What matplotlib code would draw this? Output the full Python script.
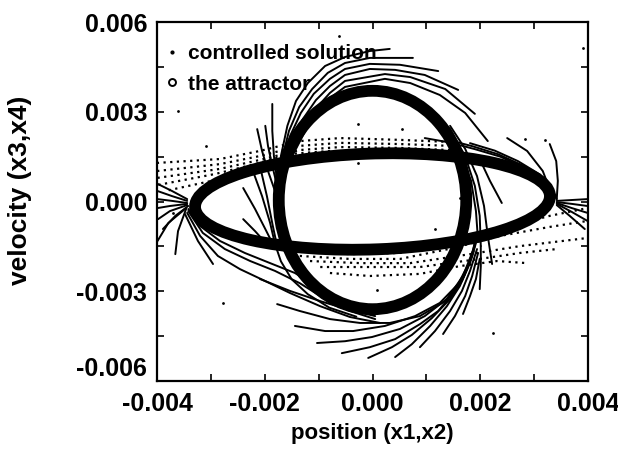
import numpy as np
import matplotlib
matplotlib.use("Agg")
import matplotlib.pyplot as plt
from matplotlib.patches import Ellipse
from matplotlib.lines import Line2D

plt.rcParams['font.family'] = ['Liberation Sans', 'DejaVu Sans']
plt.rcParams['font.weight'] = 'bold'

SCALE = 1e-3  # all values below are in units of 1e-3

# ---- axes ----
x_ticks = [-0.004, -0.002, 0.000, 0.002, 0.004]
y_ticks = [-0.006, -0.003, 0.000, 0.003, 0.006]
x_label = "position (x1,x2)"
y_label = "velocity (x3,x4)"
legend_labels = ["controlled solution", "the attractor"]

# ---- the attractor: two closed orbits (center x, center y, semi-x, semi-y, tilt deg) ----
attractor_h = (0.00, 0.00, 3.30, 1.60, 4.0)
attractor_v = (0.00, 0.05, 1.74, 3.65, 0.0)

# ---- controlled solutions (x, y pairs, units 1e-3) ----
traj_top = [
    ([0.32, -0.05, -0.51, -0.88, -1.20, -1.42, -1.58, -1.70, -1.74],
     [5.10, 5.03, 4.83, 4.53, 3.96, 3.36, 2.53, 1.52, 0.69]),
    ([0.75, -0.05, -0.51, -0.83, -1.12, -1.36, -1.55, -1.68, -1.74],
     [4.80, 4.80, 4.63, 4.30, 3.76, 3.16, 2.36, 1.42, 0.69]),
    ([1.22, 0.51, -0.05, -0.51, -0.79, -1.09, -1.33, -1.53, -1.66, -1.72],
     [4.36, 4.57, 4.60, 4.43, 4.10, 3.60, 2.96, 2.19, 1.35, 0.69]),
    ([1.59, 0.97, 0.42, -0.05, -0.51, -0.79, -1.05, -1.29, -1.51, -1.64, -1.72],
     [3.73, 4.23, 4.40, 4.43, 4.23, 3.86, 3.39, 2.76, 2.02, 1.29, 0.69]),
    ([1.90, 1.35, 0.70, 0.23, -0.51, -0.79, -1.01, -1.25, -1.47, -1.64, -1.72],
     [2.93, 3.76, 4.16, 4.26, 4.03, 3.63, 3.19, 2.59, 1.86, 1.19, 0.69]),
    ([2.14, 1.72, 1.25, 0.70, 0.23, -0.51, -0.79, -1.01, -1.23, -1.44, -1.62, -1.70],
     [2.02, 2.96, 3.56, 3.96, 4.10, 3.83, 3.46, 3.03, 2.42, 1.69, 1.09, 0.69]),
]
traj_left_inner = [
    ([-1.86, -1.86, -1.83, -1.77], [3.26, 2.36, 1.52, 0.69]),
    ([-2.14, -2.05, -1.94, -1.81], [2.42, 1.69, 1.02, 0.35]),
    ([-1.99, -1.94, -1.86, -1.77], [2.53, 1.86, 1.19, 0.52]),
    ([-2.40, -2.18, -1.99, -1.85], [0.45, -0.25, -0.92, -1.42]),
    ([-2.40, -2.18, -1.98], [-0.59, -0.99, -1.39]),
    ([-2.22, -2.05, -1.90, -1.81], [1.02, 0.18, -0.72, -1.42]),
    ([-2.09, -1.96, -1.85, -1.77], [1.19, 0.18, -0.82, -1.49]),
    ([-1.81, -1.70, -1.50, -1.20, -0.80, -0.30], [-1.42, -2.00, -2.60, -3.10, -3.55, -3.85]),
]
traj_left_edge = [
    ([-3.99, -3.72, -3.44], [0.59, 0.35, 0.08]),
    ([-3.99, -3.72, -3.44], [0.35, 0.18, 0.02]),
    ([-3.99, -3.72, -3.44], [0.08, 0.02, -0.05]),
    ([-3.99, -3.76, -3.44], [-0.22, -0.15, -0.08]),
    ([-3.98, -3.76, -3.44], [-0.59, -0.32, -0.12]),
    ([-3.89, -3.66, -3.42], [-0.92, -0.48, -0.15]),
    ([-3.66, -3.61, -3.46], [-1.76, -0.99, -0.25]),
    ([-3.99, -3.79, -3.46], [-1.32, -0.72, -0.22]),
]
traj_bottom_left = [
    ([-3.42, -3.20, -2.83, -2.37, -1.90, -1.44, -0.97, -0.51, -0.01],
     [-0.25, -0.82, -1.32, -1.72, -2.06, -2.39, -2.93, -3.39, -3.73]),
    ([-3.42, -3.15, -2.74, -2.27, -1.81, -1.35, -0.88, -0.42, 0.05],
     [-0.32, -1.05, -1.59, -1.99, -2.32, -2.73, -3.26, -3.66, -3.93]),
    ([-3.44, -3.20, -2.87, -2.46, -1.99, -1.53, -0.97, -0.42, 0.14],
     [-0.38, -1.15, -1.82, -2.26, -2.66, -3.06, -3.50, -3.86, -4.06]),
    ([-3.48, -3.24, -2.96], [-0.42, -1.32, -2.09]),
    ([-2.09, -1.53, -0.97, -0.42, 0.05], [-2.59, -2.99, -3.33, -3.63, -3.83]),
]
traj_bottom = [
    ([-1.77, -1.35, -0.79, -0.23, 0.32, 0.88, 1.35, 1.66, 1.85, 1.92],
     [-3.43, -3.66, -3.93, -4.06, -4.06, -3.83, -3.33, -2.66, -1.82, -1.15]),
    ([-1.44, -0.88, -0.36, 0.23, 0.79, 1.25, 1.59, 1.81, 1.92],
     [-4.16, -4.33, -4.33, -4.16, -3.83, -3.39, -2.76, -1.99, -1.25]),
    ([-1.03, -0.51, -0.01, 0.51, 0.97, 1.38, 1.68, 1.86],
     [-4.73, -4.67, -4.53, -4.26, -3.83, -3.26, -2.49, -1.66]),
    ([-0.57, -0.05, 0.42, 0.88, 1.22, 1.53, 1.75, 1.90],
     [-5.07, -4.87, -4.60, -4.10, -3.66, -2.99, -2.26, -1.49]),
    ([-0.08, 0.36, 0.73, 1.10, 1.44, 1.70, 1.88],
     [-5.23, -4.87, -4.46, -3.90, -3.26, -2.49, -1.66]),
    ([0.42, 0.73, 1.07, 1.38, 1.62, 1.81, 1.92],
     [-5.20, -4.77, -4.16, -3.50, -2.83, -2.06, -1.39]),
    ([0.88, 1.16, 1.44, 1.66, 1.81, 1.94], [-4.87, -4.33, -3.66, -2.99, -2.32, -1.59]),
    ([1.31, 1.53, 1.72, 1.85, 1.96], [-4.43, -3.83, -3.16, -2.49, -1.72]),
    ([1.68, 1.81, 1.92, 1.99], [-3.76, -3.16, -2.59, -1.92]),
    ([1.99, 2.01, 2.01], [-2.93, -2.16, -1.49]),
]
traj_right_up = [
    ([2.01, 1.99, 1.90, 1.72, 1.44, 1.07, 0.60, 0.14],
     [-1.49, -0.48, 0.52, 1.52, 2.42, 3.09, 3.60, 3.83]),
    ([1.96, 1.92, 1.83, 1.64, 1.36, 0.99, 0.51],
     [-1.32, -0.32, 0.69, 1.62, 2.46, 3.13, 3.60]),
    ([2.22, 2.14, 2.07, 1.94, 1.72, 1.44], [-2.09, -1.15, -0.15, 0.85, 1.76, 2.53]),
]
traj_right_edge = [
    ([3.99, 3.70, 3.42], [0.08, 0.05, 0.02]),
    ([3.99, 3.70, 3.42], [-0.15, -0.08, -0.02]),
    ([3.99, 3.70, 3.42], [-0.38, -0.22, -0.05]),
    ([3.99, 3.70, 3.42], [-0.65, -0.35, -0.08]),
    ([3.94, 3.66, 3.42], [-0.92, -0.48, -0.12]),
    ([3.29, 3.41, 3.44, 3.42], [1.92, 1.35, 0.69, 0.08]),
    ([2.50, 2.87, 3.16, 3.32], [2.12, 1.69, 1.02, 0.28]),
    ([1.99, 2.18, 2.40], [1.42, 0.69, -0.05]),
]
traj_top_right = [
    ([3.42, 3.20, 2.83, 2.37, 1.90, 1.44, 0.97], [0.08, 0.69, 1.12, 1.50, 1.75, 1.97, 2.12]),
    ([3.41, 3.16, 2.77, 2.33, 1.85, 1.40], [0.15, 0.80, 1.22, 1.58, 1.85, 2.06]),
    ([3.39, 3.11, 2.70, 2.27, 1.81], [0.22, 0.90, 1.35, 1.70, 1.95]),
]
# sparse (dotted) solutions
dotted_upper = [
    ([1.44, 0.51, -0.60, -1.35, -2.09, -2.83, -3.99], [1.99, 2.06, 2.12, 2.02, 1.69, 1.42, 1.29]),
    ([1.44, 0.51, -0.60, -1.35, -2.09, -2.83, -3.99], [1.86, 1.92, 1.96, 1.86, 1.52, 1.25, 1.02]),
    ([1.44, 0.51, -0.60, -1.35, -2.09, -2.83, -3.99], [1.72, 1.79, 1.82, 1.72, 1.39, 1.09, 0.79]),
    ([1.07, 0.14, -0.79, -1.53, -2.18, -2.92, -3.99], [1.62, 1.66, 1.69, 1.59, 1.25, 0.92, 0.55]),
    ([-1.35, -2.09, -2.83, -3.85], [1.52, 1.12, 0.75, 0.35]),
]
dotted_lower = [
    ([-1.35, -0.42, 0.51, 1.44, 2.37, 3.29, 3.99], [-1.66, -1.76, -1.72, -1.32, -0.92, -0.48, -0.22]),
    ([-1.35, -0.42, 0.51, 1.49, 2.37, 3.29, 3.99], [-1.82, -1.92, -1.92, -1.56, -1.15, -0.85, -0.65]),
    ([-1.16, -0.23, 0.70, 1.81, 2.74, 3.99], [-1.99, -2.06, -2.06, -1.76, -1.49, -1.22]),
    ([-0.97, -0.05, 0.88, 1.99, 2.74, 3.42], [-2.19, -2.19, -2.19, -1.92, -1.72, -1.59]),
    ([-0.79, -0.05, 0.88, 1.62, 2.31, 2.87], [-2.39, -2.49, -2.42, -2.16, -1.99, -2.06]),
]
stray_x = [-3.61, -0.62, -2.77, 1.16, 0.08, 2.24, 3.91, 2.83, 3.20, 0.55, -0.27, -0.27, 1.62, -3.09, -3.70]
stray_y = [3.03, 5.54, -3.39, -0.92, -2.96, -4.40, 5.13, 2.09, 2.06, 2.42, 2.59, 1.29, 0.12, 1.86, -0.38]

# ---- figure ----
fig = plt.figure(figsize=(6.18, 4.49), dpi=100)
ax = fig.add_axes([157 / 618, 68 / 449, 431 / 618, 359 / 449])

for (cx, cy, sx, sy, ang) in (attractor_h, attractor_v):
    ax.add_patch(Ellipse((cx * SCALE, cy * SCALE), 2 * sx * SCALE, 2 * sy * SCALE,
                         angle=ang, fill=False, edgecolor='black', lw=8.5, zorder=2))

solid_groups = [traj_top, traj_left_inner, traj_left_edge, traj_bottom_left,
                traj_bottom, traj_right_up, traj_right_edge, traj_top_right]
for grp in solid_groups:
    for xs, ys in grp:
        ax.plot(np.array(xs) * SCALE, np.array(ys) * SCALE, color='black',
                lw=1.4, solid_capstyle='round', solid_joinstyle='round', zorder=3)
for grp in (dotted_upper, dotted_lower):
    for xs, ys in grp:
        ax.plot(np.array(xs) * SCALE, np.array(ys) * SCALE, color='black',
                lw=1.6, ls=(0, (1, 2.0)), zorder=3)
ax.scatter(np.array(stray_x) * SCALE, np.array(stray_y) * SCALE, s=4, color='black',
           zorder=3, linewidths=0)

ax.set_xlim(-0.004, 0.004)
ax.set_ylim(-0.006, 0.006)
ax.set_xticks(x_ticks)
ax.set_yticks(y_ticks)
ax.set_xticklabels([f"{v:.3f}" for v in x_ticks])
ax.set_yticklabels([f"{v:.3f}" for v in y_ticks])
ax.set_xticks(np.arange(-0.003, 0.0031, 0.002), minor=True)
ax.set_yticks(np.arange(-0.0045, 0.0046, 0.003), minor=True)
ax.tick_params(which='both', direction='in', top=True, right=True, width=1.2,
               labelsize=18, colors='black', length=5)
ax.tick_params(axis='x', pad=8)
ax.tick_params(axis='y', pad=7)
for s in ax.spines.values():
    s.set_linewidth(1.6)
# bottom y label sits just above the axis corner, as in the original
ax.get_yticklabels()[0].set_verticalalignment('bottom')

ax.set_xlabel(x_label, fontsize=16, fontweight='bold', labelpad=5)
ax.set_ylabel(y_label, fontsize=19, fontweight='bold')
ax.yaxis.set_label_coords(-0.29, 0.53)

handles = [Line2D([], [], ls='none', marker='.', ms=4, color='black'),
           Line2D([], [], ls='none', marker='o', ms=5, mfc='none', mec='black', mew=1.4)]
ax.legend(handles, legend_labels, loc='upper left', bbox_to_anchor=(0.016, 0.938),
          frameon=False, fontsize=15, handlelength=0.8, handletextpad=0.35,
          labelspacing=0.55, borderaxespad=0.0, borderpad=0.0)

fig.savefig("out.png", dpi=100)
